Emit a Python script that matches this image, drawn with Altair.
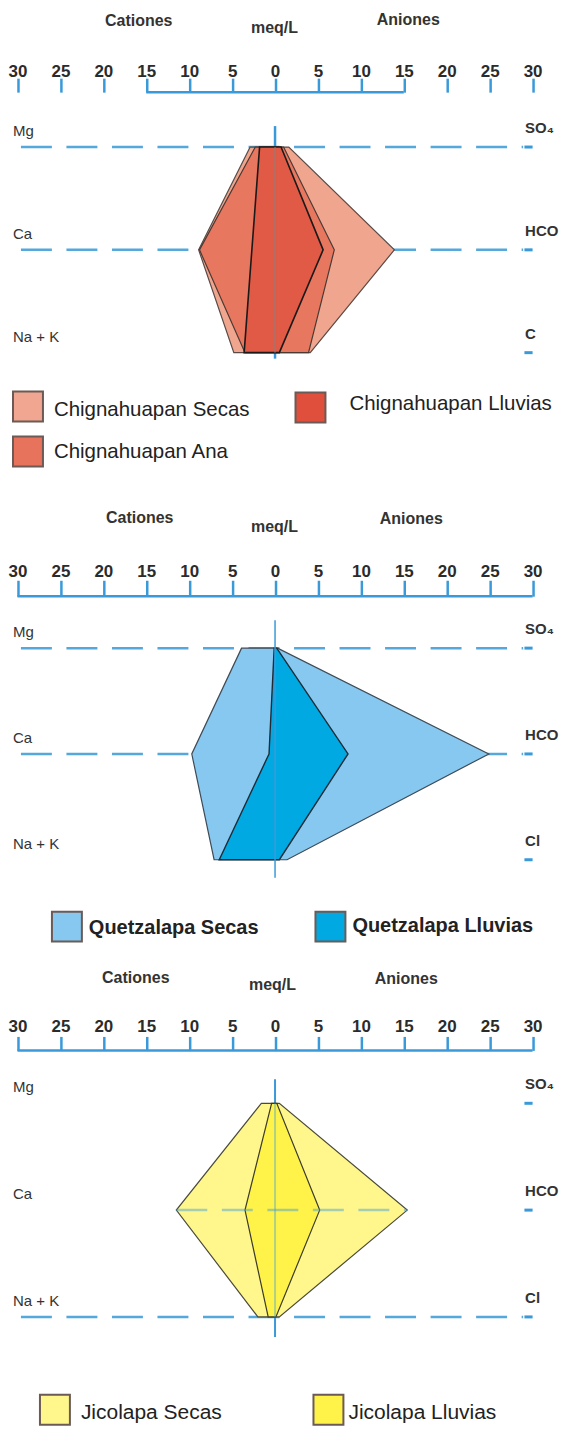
import altair as alt
import pandas as pd

# ---------------- data (meq/L) ----------------
CATION_LABELS = ["Mg", "Ca", "Na + K"]
ANION_LABELS_1 = ["SO₄", "HCO", "C"]
ANION_LABELS_2 = ["SO₄", "HCO", "Cl"]
ANION_LABELS_3 = ["SO₄", "HCO", "Cl"]
ROWS = [1, 2, 3]
TICK_VALUES = [-30, -25, -20, -15, -10, -5, 0, 5, 10, 15, 20, 25, 30]
TITLES = ["Cationes", "meq/L", "Aniones"]

CHIG_NAMES = ["Chignahuapan Secas", "Chignahuapan Lluvias", "Chignahuapan Ana"]
CHIG_SECAS_CAT = [2.9, 8.9, 4.8]
CHIG_SECAS_AN = [1.6, 13.9, 4.1]
CHIG_ANA_CAT = [2.3, 8.8, 3.5]
CHIG_ANA_AN = [1.0, 6.9, 3.9]
CHIG_LLUV_CAT = [1.8, 2.7, 3.6]
CHIG_LLUV_AN = [0.7, 5.6, 0.5]

QUET_NAMES = ["Quetzalapa Secas", "Quetzalapa Lluvias"]
QUET_SECAS_CAT = [3.9, 9.7, 7.1]
QUET_SECAS_AN = [0.3, 24.9, 1.4]
QUET_LLUV_CAT = [0.1, 0.7, 6.5]
QUET_LLUV_AN = [0.2, 8.5, 0.5]

JICO_NAMES = ["Jicolapa Secas", "Jicolapa Lluvias"]
JICO_SECAS_CAT = [1.6, 11.5, 2.0]
JICO_SECAS_AN = [0.5, 15.4, 0.5]
JICO_LLUV_CAT = [0.4, 3.5, 0.8]
JICO_LLUV_AN = [0.2, 5.2, 0.1]

# ---------------- style / layout ----------------
FONT = "Liberation Sans"
BLUE = "#3A9AD9"
DASH_BLUE = "#55A8DC"
XDOM = [-30.99, 33.31]
PLOT_W = 553
X0_PX, PX_PER_UNIT = 274.5, 8.6


def px_to_x(px):
    return (px - X0_PX) / PX_PER_UNIT


XS = alt.Scale(domain=XDOM, nice=False, zero=False)


def build_panel(cfg):
    def r(py):
        return 1 + (py - cfg["row0"]) / cfg["step"]

    ys = alt.Scale(domain=[r(cfg["top"]), r(cfg["bottom"])], reverse=True, nice=False, zero=False)
    height = cfg["bottom"] - cfg["top"]

    ax = alt.Axis(orient="top", values=TICK_VALUES, labelExpr="format(abs(datum.value), 'd')",
                  domain=False, grid=False, ticks=True, labels=True, tickSize=cfg["tick"], tickWidth=2.5,
                  tickColor=BLUE, labelFont=FONT, labelFontSize=17, labelFontWeight="bold",
                  labelColor="#2b2b2b", labelPadding=cfg["lpad"], offset=-(cfg["axis_px"] - cfg["top"]),
                  labelFlush=False, labelOverlap=False, title="")

    def xq(field):
        return alt.X(field, type="quantitative", scale=XS, axis=ax)

    def yq(field):
        return alt.Y(field, type="quantitative", scale=ys, axis=None, title=None)

    layers = []

    # axis base line
    axis_df = pd.DataFrame({"x": [cfg["axis_lo"]], "x2": [cfg["axis_hi"]], "y": [r(cfg["axis_px"])]})
    layers.append(alt.Chart(axis_df).mark_rule(color=BLUE, strokeWidth=2.5).encode(
        x=xq("x"), x2="x2", y=yq("y")))

    # titles
    title_df = pd.DataFrame({"x": [px_to_x(p[0]) for p in cfg["titles_px"]],
                             "y": [r(p[1]) for p in cfg["titles_px"]], "t": TITLES})
    layers.append(alt.Chart(title_df).mark_text(font=FONT, fontSize=16, fontWeight="bold", color="#333",
                                                align="center", baseline="middle").encode(
        x=xq("x"), y=yq("y"), text="t:N"))

    # dashed row lines
    if cfg["dash_rows"]:
        dash_df = pd.DataFrame({"x": [-29.6] * len(cfg["dash_rows"]), "x2": [28.9] * len(cfg["dash_rows"]),
                                "y": cfg["dash_rows"]})
        layers.append(alt.Chart(dash_df).mark_rule(color=DASH_BLUE, strokeWidth=2.5, strokeDash=[31, 14.6]).encode(
            x=xq("x"), x2="x2", y=yq("y")))

    # short right marks
    rd_df = pd.DataFrame({"x": [29.05] * 3, "x2": [30.0] * 3, "y": ROWS})
    layers.append(alt.Chart(rd_df).mark_rule(color=BLUE, strokeWidth=3).encode(x=xq("x"), x2="x2", y=yq("y")))

    # center line beneath
    if cfg["center_under"]:
        a, b, w = cfg["center_under"]
        c_df = pd.DataFrame({"x": [0.0], "y": [r(a)], "y2": [r(b)]})
        layers.append(alt.Chart(c_df).mark_rule(color=BLUE, strokeWidth=w).encode(x=xq("x"), y=yq("y"), y2="y2"))

    # Stiff polygons
    for s in cfg["series"]:
        df = pd.DataFrame({"y": ROWS, "x": [-v for v in s["cat"]], "x2": s["an"]})
        layers.append(alt.Chart(df).mark_area(orient="horizontal", fill=s["fill"], stroke=s["stroke"],
                                              strokeWidth=s["sw"], opacity=1, fillOpacity=1).encode(
            x=xq("x"), x2="x2", y=yq("y")))

    # overlays
    if cfg.get("inner_dash"):
        lo, hi, row = cfg["inner_dash"]
        idf = pd.DataFrame({"x": [lo], "x2": [hi], "y": [row]})
        layers.append(alt.Chart(idf).mark_rule(color=BLUE, strokeWidth=2.5, strokeDash=[31, 14.6], opacity=0.45).encode(
            x=xq("x"), x2="x2", y=yq("y")))
    if cfg["center_over"]:
        a, b, col, op, w = cfg["center_over"]
        c_df = pd.DataFrame({"x": [0.0], "y": [r(a)], "y2": [r(b)]})
        layers.append(alt.Chart(c_df).mark_rule(color=col, strokeWidth=w, opacity=op).encode(
            x=xq("x"), y=yq("y"), y2="y2"))

    # row labels
    left_df = pd.DataFrame({"x": [px_to_x(12)] * 3, "y": ROWS, "t": CATION_LABELS})
    layers.append(alt.Chart(left_df).mark_text(font=FONT, fontSize=15, color="#333", align="left",
                                               baseline="middle", dy=-16).encode(x=xq("x"), y=yq("y"), text="t:N"))
    right_df = pd.DataFrame({"x": [px_to_x(525)] * 3, "y": ROWS, "t": cfg["anions"]})
    layers.append(alt.Chart(right_df).mark_text(font=FONT, fontSize=15, fontWeight="bold", color="#333",
                                                align="left", baseline="middle", dy=-19).encode(
        x=xq("x"), y=yq("y"), text="t:N"))

    # legend
    leg = cfg["legend"]
    sq_df = pd.DataFrame({"x": [px_to_x(e[1]) for e in leg], "y": [r(e[2]) for e in leg],
                          "c": [e[5] for e in leg]})
    layers.append(alt.Chart(sq_df).mark_square(size=900, stroke="#6b5a55", strokeWidth=2, opacity=1,
                                               filled=True).encode(
        x=xq("x"), y=yq("y"), fill=alt.Fill("c:N", scale=None)))
    lt_df = pd.DataFrame({"x": [px_to_x(e[3]) for e in leg], "y": [r(e[4]) for e in leg],
                          "t": [e[0] for e in leg]})
    layers.append(alt.Chart(lt_df).mark_text(font=FONT, fontSize=cfg["leg_size"], fontWeight=cfg["leg_weight"],
                                             color="#222", align="left", baseline="middle").encode(
        x=xq("x"), y=yq("y"), text="t:N"))

    return alt.layer(*layers).properties(width=PLOT_W, height=height)


P1 = dict(top=8, bottom=483, row0=146, step=103, axis_px=91, tick=14, lpad=-2, axis_lo=-15, axis_hi=15,
          titles_px=[(138, 20), (274, 27), (408, 19)], dash_rows=[1, 2],
          center_under=(125, 358, 2.5), center_over=(146, 352, "#8c7d80", 0.55, 2),
          anions=ANION_LABELS_1,
          series=[
              dict(cat=CHIG_SECAS_CAT, an=CHIG_SECAS_AN, fill="#F0A68E", stroke="#5a4a45", sw=1.2),
              dict(cat=CHIG_ANA_CAT, an=CHIG_ANA_AN, fill="#E8775F", stroke="#4a3a35", sw=1.2),
              dict(cat=CHIG_LLUV_CAT, an=CHIG_LLUV_AN, fill="#E05A45", stroke="#1a1a1a", sw=1.6),
          ],
          legend=[
              (CHIG_NAMES[0], 27, 406, 53, 409, "#F0A690"),
              (CHIG_NAMES[1], 310, 407, 349, 403, "#E04E3C"),
              (CHIG_NAMES[2], 27, 451, 53, 452, "#E8735C"),
          ], leg_size=20.5, leg_weight="normal")

P2 = dict(top=483, bottom=955, row0=648, step=106, axis_px=596, tick=16, lpad=0, axis_lo=-30, axis_hi=30,
          titles_px=[(139, 518), (274, 527), (411, 519)], dash_rows=[1, 2],
          center_under=None, center_over=(620, 878, BLUE, 1, 1.5),
          anions=ANION_LABELS_2,
          series=[
              dict(cat=QUET_SECAS_CAT, an=QUET_SECAS_AN, fill="#86C8F0", stroke="#3f4a55", sw=1.2),
              dict(cat=QUET_LLUV_CAT, an=QUET_LLUV_AN, fill="#00A9E2", stroke="#1f2a35", sw=1.4),
          ],
          legend=[
              (QUET_NAMES[0], 66, 927, 88, 928, "#86C8F0"),
              (QUET_NAMES[1], 330, 927, 352, 926, "#00A9E2"),
          ], leg_size=20, leg_weight="bold")

P3 = dict(top=955, bottom=1426, row0=1104, step=107, axis_px=1051, tick=14, lpad=1, axis_lo=-30, axis_hi=30,
          titles_px=[(135, 978), (272, 985), (406, 979)], dash_rows=[3],
          center_under=(1080, 1338, 2), center_over=(1104, 1318, BLUE, 0.4, 2),
          inner_dash=(-JICO_SECAS_CAT[1], JICO_SECAS_AN[1], 2),
          anions=ANION_LABELS_3,
          series=[
              dict(cat=JICO_SECAS_CAT, an=JICO_SECAS_AN, fill="#FFF78C", stroke="#4a4a3a", sw=1.2),
              dict(cat=JICO_LLUV_CAT, an=JICO_LLUV_AN, fill="#FFF34A", stroke="#3a3a2a", sw=1.2),
          ],
          legend=[
              (JICO_NAMES[0], 54, 1411, 80, 1414, "#FFF78C"),
              (JICO_NAMES[1], 328, 1411, 348, 1414, "#FFF34A"),
          ], leg_size=21, leg_weight="normal")

panels = [build_panel(c) for c in (P1, P2, P3)]

chart = (
    alt.vconcat(*panels, spacing=0)
    .resolve_scale(x="independent", y="independent")
    .properties(padding={"left": 0, "right": 0, "top": 0, "bottom": 0}, background="white")
    .configure_view(stroke=None)
)

chart.save("out.html", embed_options={"renderer": "svg", "actions": False})
